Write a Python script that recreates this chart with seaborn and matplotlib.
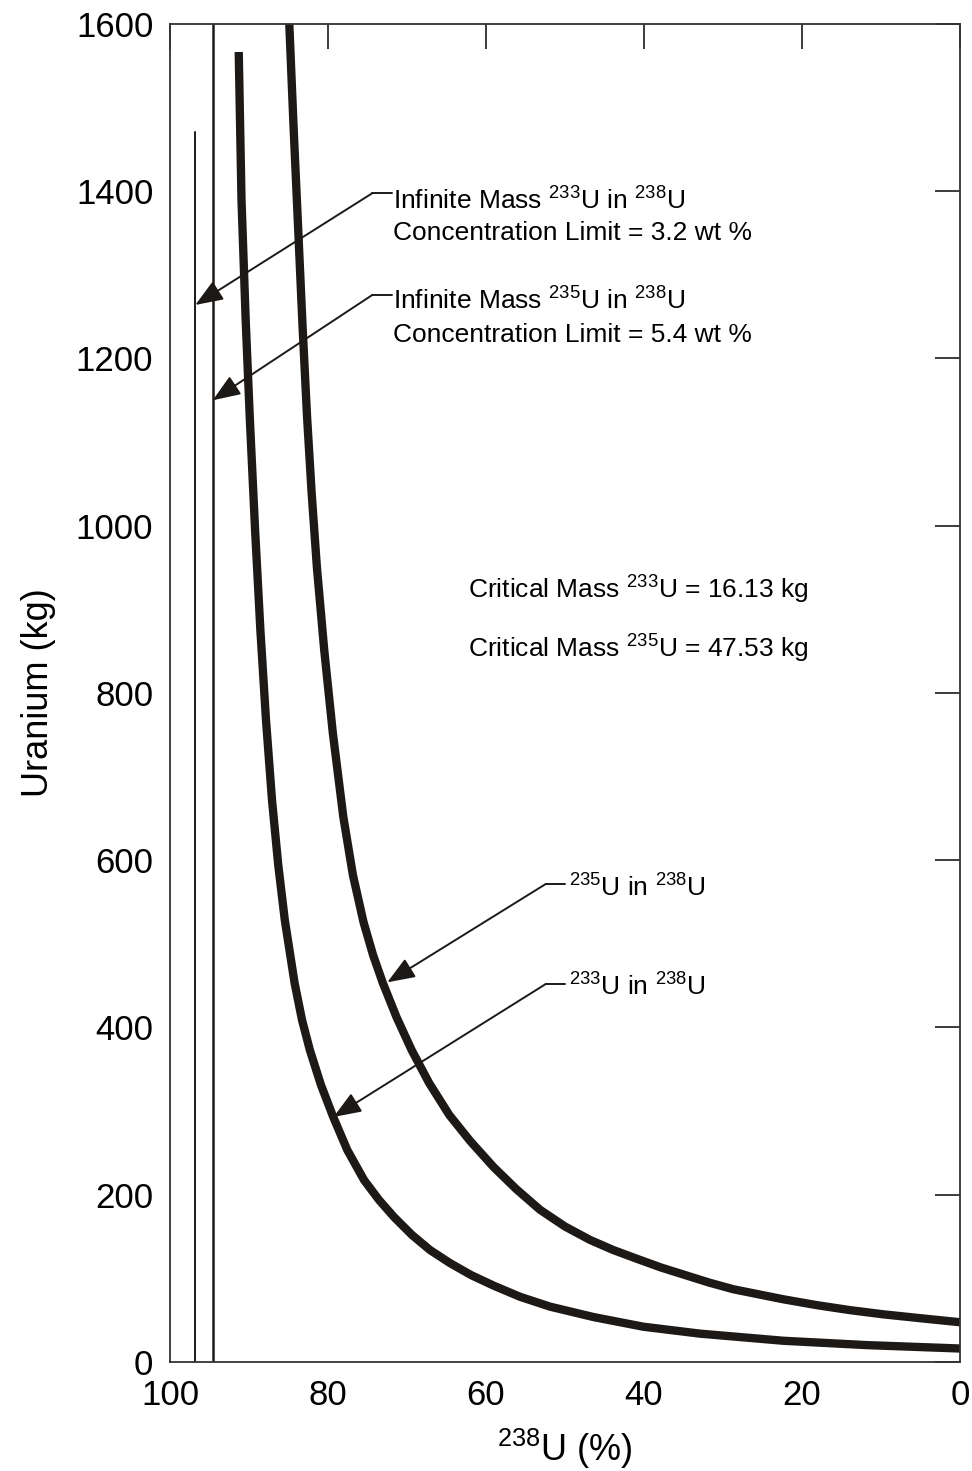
import seaborn as sns
import matplotlib.pyplot as plt
import pandas as pd

# values
u233_x = [91.30, 90.95, 90.42, 89.89, 89.23, 88.56, 87.85, 87.09, 86.30, 85.47, 84.23,
          83.29, 82.30, 80.89, 79.34, 77.56, 75.44, 73.54, 71.65, 69.37, 67.09, 64.56,
          61.90, 59.08, 55.70, 51.90, 46.42, 40.09, 32.91, 22.37, 11.81, 0.0]
u233_y = [1566.5, 1389.5, 1246.0, 1126.5, 994.9, 875.3, 767.7, 672.1, 594.3, 528.5, 453.2,
          409.0, 373.1, 331.2, 293.0, 253.5, 217.6, 193.7, 173.4, 151.9, 133.9, 118.3,
          104.0, 91.5, 78.0, 66.2, 53.8, 42.2, 33.9, 25.4, 20.2, 16.13]
u235_x = [84.90, 84.37, 83.77, 83.23, 82.65, 82.08, 81.41, 80.48, 79.39, 78.06, 76.85,
          75.51, 74.30, 73.06, 71.34, 69.42, 67.20, 64.65, 62.01, 59.05, 56.20, 53.16,
          50.00, 46.84, 43.92, 40.92, 37.85, 34.81, 31.77, 28.70, 22.37, 18.14, 13.92,
          9.71, 4.65, 0.0]
u235_y = [1600, 1479.2, 1353.7, 1240.1, 1130.0, 1040.4, 950.7, 851.4, 752.2, 651.7, 582.4,
          526.2, 486.7, 453.2, 412.6, 373.1, 333.6, 295.4, 264.3, 233.2, 207, 182,
          162, 146, 134, 123.5, 113, 104, 95, 87, 75, 68, 62,
          57, 52, 47.53]
limit_x = [96.8, 94.6]          # infinite-mass concentration limits (100 - wt%)
limit_top = [1471, 1600]
xticks = [100, 80, 60, 40, 20, 0]
yticks = [0, 200, 400, 600, 800, 1000, 1200, 1400, 1600]

sns.set_style("white")
plt.rcParams['font.family'] = ['Liberation Sans', 'DejaVu Sans']
plt.rcParams['mathtext.fontset'] = 'custom'
plt.rcParams['mathtext.rm'] = 'Liberation Sans'
plt.rcParams['text.color'] = 'black'
plt.rcParams['axes.labelcolor'] = 'black'
plt.rcParams['xtick.color'] = 'black'
plt.rcParams['ytick.color'] = 'black'

ink = '#1d1916'
df = pd.concat([
    pd.DataFrame({'x': u233_x, 'y': u233_y, 'iso': '233'}),
    pd.DataFrame({'x': u235_x, 'y': u235_y, 'iso': '235'}),
])

fig = plt.figure(figsize=(9.72, 14.71), dpi=100)
ax = fig.add_axes([0.1749, 0.0741, 0.8128, 0.9096])

sns.lineplot(data=df, x='x', y='y', units='iso', estimator=None, sort=False,
             color=ink, lw=6, solid_capstyle='butt', solid_joinstyle='round',
             ax=ax, legend=False)

for lx, top, lw in zip(limit_x, limit_top, [1.4, 1.8]):
    ax.plot([lx, lx], [0, top], color=ink, lw=lw)

ax.set_xlim(100, 0)
ax.set_ylim(0, 1600)
ax.set_xticks(xticks, [str(t) for t in xticks])
ax.set_yticks(yticks, [str(t) for t in yticks])
ax.tick_params(direction='in', length=18, width=1.2, color=ink, labelsize=25,
               pad=12, top=True, right=True)
for s in ax.spines.values():
    s.set_color('#333333')
    s.set_linewidth(1.3)

ax.set_xlabel(r'$\mathregular{^{238}}$U (%)', fontsize=26, labelpad=11)
ax.set_ylabel('Uranium (kg)', fontsize=26, labelpad=14)

arrow = dict(arrowstyle='-|>,head_length=0.85,head_width=0.33', color=ink, lw=1.4,
             shrinkA=0, shrinkB=0, mutation_scale=20)
fs = 19
sup = lambda n: '$\\mathregular{^{%s}}$' % n

# leader: elbow start, stub end, arrow tip, text x, [(baseline y, text)]
annos = [
    ((74.4, 1397.6), 71.94, (96.8, 1264), 71.8,
     [(1378.4, 'Infinite Mass ' + sup(233) + 'U in ' + sup(238) + 'U'),
      (1341.7, 'Concentration Limit = 3.2 wt %')]),
    ((74.4, 1275.9), 71.94, (94.6, 1150), 71.8,
     [(1258.8, 'Infinite Mass ' + sup(235) + 'U in ' + sup(238) + 'U'),
      (1220.1, 'Concentration Limit = 5.4 wt %')]),
    ((52.44, 571.6), 50.0, (72.5, 454), 49.5,
     [(556.4, sup(235) + 'U in ' + sup(238) + 'U')]),
    ((52.44, 452.0), 50.0, (79.3, 293), 49.5,
     [(437.7, sup(233) + 'U in ' + sup(238) + 'U')]),
]
for (ex, ey), sx, tip, tx, lines in annos:
    ax.plot([ex, sx], [ey, ey], color=ink, lw=1.4)
    ax.annotate('', xy=tip, xytext=(ex, ey), arrowprops=arrow)
    for by, label in lines:
        ax.text(tx, by, label, fontsize=fs, ha='left', va='baseline')

ax.text(62.3, 913.2, 'Critical Mass ' + sup(233) + 'U = 16.13 kg', fontsize=fs,
        ha='left', va='baseline')
ax.text(62.3, 842.7, 'Critical Mass ' + sup(235) + 'U = 47.53 kg', fontsize=fs,
        ha='left', va='baseline')

fig.savefig('out.png', dpi=100)
